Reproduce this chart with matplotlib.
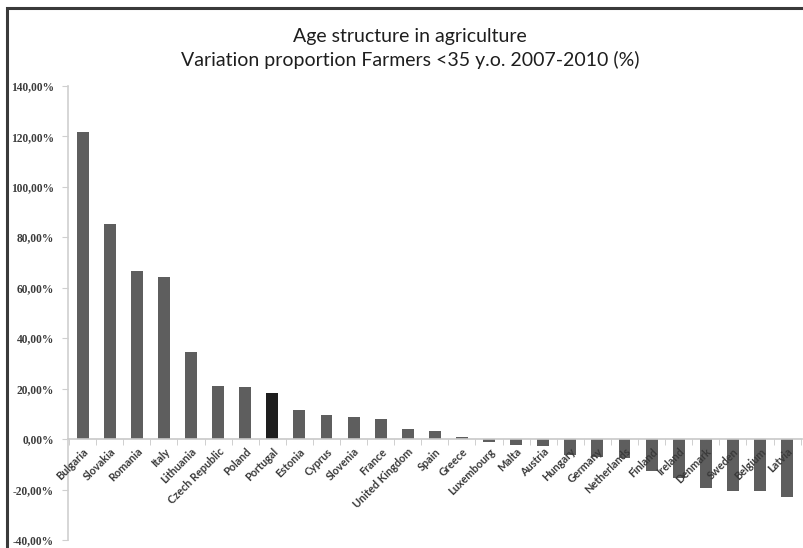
import matplotlib
matplotlib.use("Agg")
import matplotlib.pyplot as plt
from matplotlib.patches import Rectangle
from matplotlib.ticker import FuncFormatter, FixedLocator
import numpy as np

countries = ["Bulgaria", "Slovakia", "Romania", "Italy", "Lithuania", "Czech Republic",
             "Poland", "Portugal", "Estonia", "Cyprus", "Slovenia", "France",
             "United Kingdom", "Spain", "Greece", "Luxembourg", "Malta", "Austria",
             "Hungary", "Germany", "Netherlands", "Finland", "Ireland", "Denmark",
             "Sweden", "Belgium", "Latvia"]
variation = [121.6, 85.4, 66.6, 64.3, 34.4, 21.1,
             20.5, 18.4, 11.5, 9.6, 8.7, 7.9,
             3.9, 3.1, 0.9, -1.3, -2.3, -2.8,
             -6.5, -7.0, -7.4, -12.7, -15.6, -19.4,
             -20.4, -20.7, -22.9]
highlight = "Portugal"
y_ticks = [-40, -20, 0, 20, 40, 60, 80, 100, 120, 140]

fig = plt.figure(figsize=(8.04, 5.48), dpi=100)
fig.patch.set_facecolor("white")

# chart frame
fig.add_artist(Rectangle((7 / 804, -0.1), 1.2, 1 - 8.5 / 548 + 0.1,
                         transform=fig.transFigure, fill=False,
                         edgecolor="#3a3a3a", linewidth=2.2, zorder=0))

ax = fig.add_axes([67.7 / 804, 1 - 540 / 548, (802 - 67.7) / 804, (540 - 85.7) / 548])
ax.set_facecolor("none")
ax.set_axisbelow(False)

x = np.arange(len(countries))
colors = ["#1e1e1e" if c == highlight else "#5e5e5e" for c in countries]
ax.bar(x, variation, width=0.44, color=colors, zorder=2)

ax.set_xlim(-0.55, len(countries) - 0.45)
ax.set_ylim(-40, 140)

for s in ["top", "right"]:
    ax.spines[s].set_visible(False)
ax.spines["left"].set_color("#cfcfcf")
ax.spines["left"].set_linewidth(1.2)
ax.spines["bottom"].set_position(("data", 0))
ax.spines["bottom"].set_color("#c8c8c8")
ax.spines["bottom"].set_linewidth(1.2)

ax.yaxis.set_major_locator(FixedLocator(y_ticks))
ax.yaxis.set_major_formatter(FuncFormatter(lambda v, p: f"{v:.2f}".replace(".", ",") + "%"))
ax.tick_params(axis="y", length=4, color="#cfcfcf", pad=6, labelsize=8.3, labelcolor="#3c3c3c")
for lab in ax.get_yticklabels():
    lab.set_fontfamily("Liberation Serif")
    lab.set_fontweight("bold")

ax.set_xticks(x)
ax.set_xticklabels(countries, rotation=45, ha="right", rotation_mode="anchor",
                   fontsize=7.8, fontweight="bold", color="#3a3a3a", fontfamily="Lato")
ax.tick_params(axis="x", which="major", length=0, pad=5)
ax.set_xticks(np.arange(len(countries) + 1) - 0.5, minor=True)
ax.tick_params(axis="x", which="minor", length=4, color="#c8c8c8", direction="out")

fig.text(0.51, 0.934, "Age structure in agriculture", ha="center", va="center",
         fontsize=14, fontfamily="Lato", color="#1e1e1e")
fig.text(0.51, 0.891, "Variation proportion Farmers <35 y.o. 2007-2010 (%)", ha="center",
         va="center", fontsize=14, fontfamily="Lato", color="#1e1e1e")

fig.savefig("out.png", dpi=100)
